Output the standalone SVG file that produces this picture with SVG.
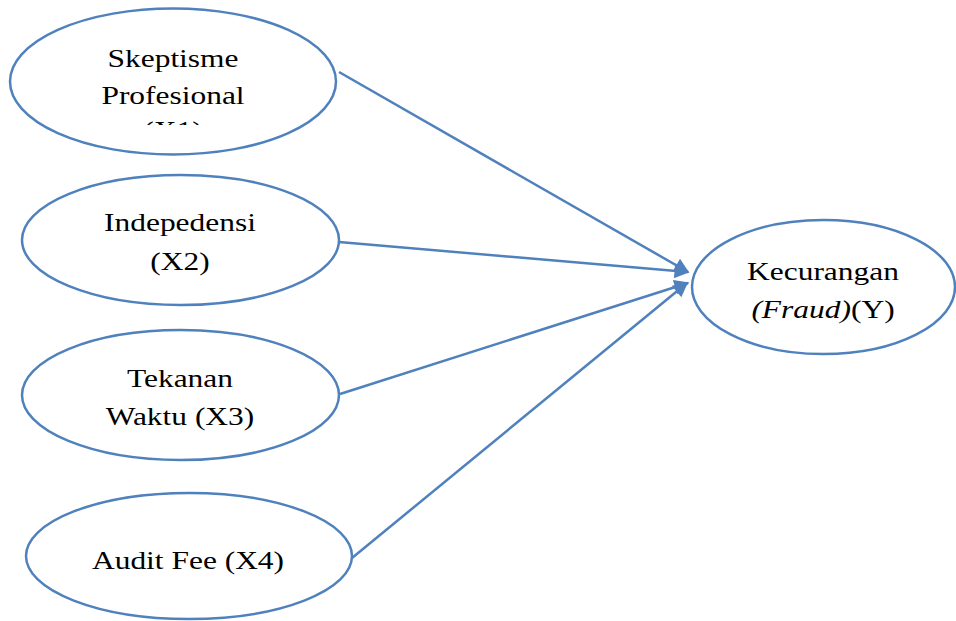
<svg xmlns="http://www.w3.org/2000/svg" width="956" height="621" viewBox="0 0 956 621">
<style>
.n{fill:#fff;stroke:#4F81BD;stroke-width:2.5}
.t{font-family:"Liberation Serif","Times New Roman",serif;font-size:26px;fill:#000;text-anchor:middle}
.c{stroke:#4F81BD;stroke-width:2.5;fill:none;marker-end:url(#ah)}
</style>
<defs>
<marker id="ah" viewBox="0 0 10 10" refX="9" refY="5" markerWidth="18" markerHeight="15" orient="auto" markerUnits="userSpaceOnUse">
<path d="M0,0 L10,5 L0,10 Z" fill="#4F81BD"/>
</marker>
<clipPath id="clip1"><rect x="-200" y="0" width="400" height="125"/></clipPath>
</defs>
<rect width="956" height="621" fill="#fff"/>
<g id="connectors">
<line class="c" x1="339" y1="72" x2="688" y2="272"/>
<line class="c" x1="339" y1="242" x2="688" y2="272"/>
<line class="c" x1="340" y1="394" x2="688" y2="283"/>
<line class="c" x1="352" y1="558" x2="687" y2="283"/>
</g>
<g id="x1">
<ellipse class="n" cx="173" cy="81.5" rx="163" ry="73"/>
<g transform="translate(173 0) scale(1.21 1)">
<text class="t" x="0" y="67">Skeptisme</text>
<text class="t" x="0" y="104">Profesional</text>
<text class="t" x="0" y="139" clip-path="url(#clip1)">(X1)</text>
</g>
</g>
<g id="x2">
<ellipse class="n" cx="180.5" cy="240" rx="158.5" ry="65"/>
<g transform="translate(180 0) scale(1.21 1)">
<text class="t" x="0" y="231">Indepedensi</text>
<text class="t" x="0" y="270">(X2)</text>
</g>
</g>
<g id="x3">
<ellipse class="n" cx="180.5" cy="395" rx="158.5" ry="65"/>
<g transform="translate(180 0) scale(1.21 1)">
<text class="t" x="0" y="387">Tekanan</text>
<text class="t" x="0" y="425">Waktu (X3)</text>
</g>
</g>
<g id="x4">
<ellipse class="n" cx="189" cy="556" rx="163" ry="63"/>
<g transform="translate(188 0) scale(1.21 1)">
<text class="t" x="0" y="569">Audit Fee (X4)</text>
</g>
</g>
<g id="y">
<ellipse class="n" cx="823.5" cy="287" rx="131.5" ry="67"/>
<g transform="translate(823 0) scale(1.21 1)">
<text class="t" x="0" y="280">Kecurangan</text>
<text class="t" x="0" y="318"><tspan font-style="italic">(Fraud)</tspan>(Y)</text>
</g>
</g>
</svg>
